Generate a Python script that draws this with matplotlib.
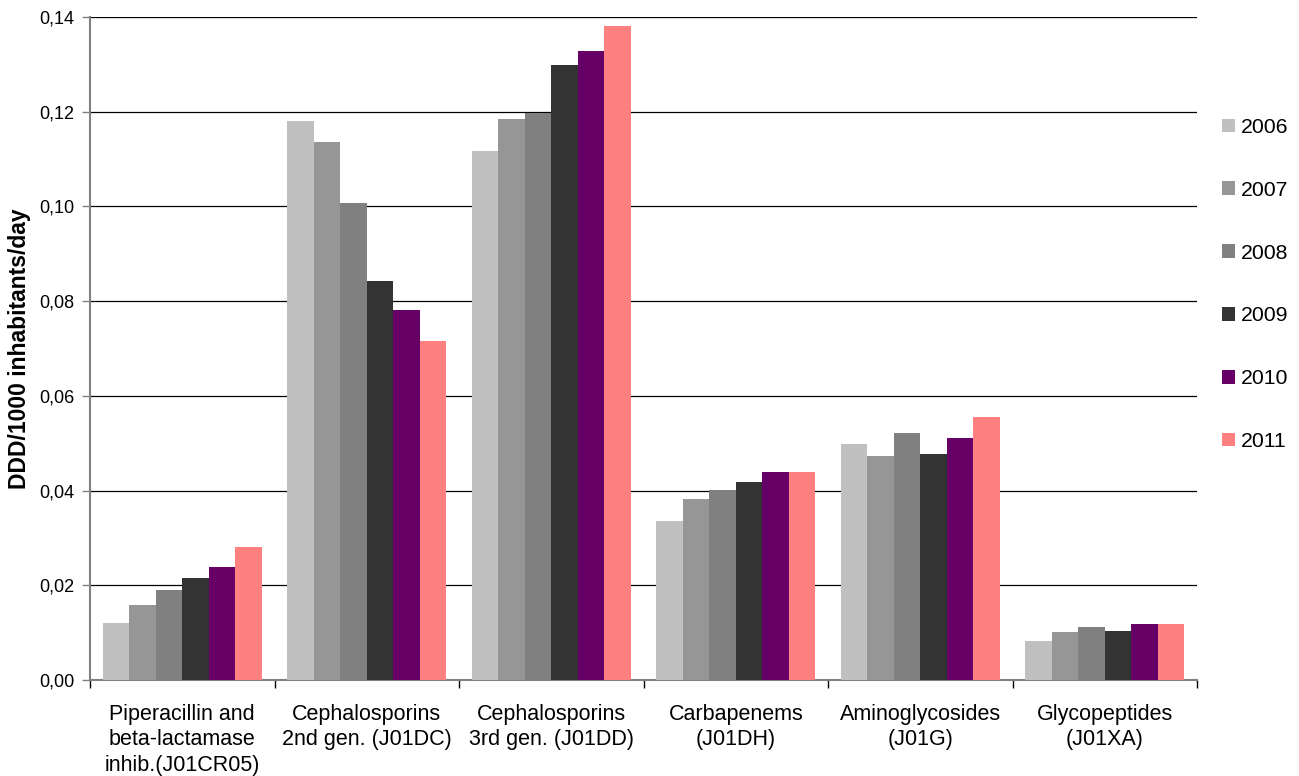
import matplotlib
matplotlib.use("Agg")
import matplotlib.pyplot as plt
import numpy as np
from matplotlib.ticker import FuncFormatter, MultipleLocator
from matplotlib.patches import Patch

plt.rcParams['font.family'] = ['Liberation Sans', 'DejaVu Sans']

categories = [
    "Piperacillin and\nbeta-lactamase\ninhib.(J01CR05)",
    "Cephalosporins\n2nd gen. (J01DC)",
    "Cephalosporins\n3rd gen. (J01DD)",
    "Carbapenems\n(J01DH)",
    "Aminoglycosides\n(J01G)",
    "Glycopeptides\n(J01XA)",
]
years = ["2006", "2007", "2008", "2009", "2010", "2011"]

v2006 = [0.0120, 0.1180, 0.1117, 0.0336, 0.0498, 0.0082]
v2007 = [0.0158, 0.1136, 0.1185, 0.0382, 0.0473, 0.0101]
v2008 = [0.0190, 0.1007, 0.1197, 0.0401, 0.0522, 0.0112]
v2009 = [0.0215, 0.0843, 0.1299, 0.0418, 0.0477, 0.0103]
v2010 = [0.0239, 0.0781, 0.1328, 0.0439, 0.0511, 0.0118]
v2011 = [0.0281, 0.0716, 0.1381, 0.0439, 0.0555, 0.0118]
series = [v2006, v2007, v2008, v2009, v2010, v2011]

colors = ["#C0C0C0", "#969696", "#808080", "#333333", "#660066", "#FF8080"]

fig = plt.figure(figsize=(12.99, 7.76), dpi=100)
ax = fig.add_axes([90 / 1299, 1 - 680 / 776, (1197 - 90) / 1299, (680 - 17) / 776])

n = len(series)
x = np.arange(len(categories))
group_w = 0.86
bw = group_w / n
for i, (vals, col) in enumerate(zip(series, colors)):
    ax.bar(x - group_w / 2 + bw * (i + 0.5), vals, width=bw, color=col,
           edgecolor='none', zorder=3, label=years[i])

ax.set_xlim(-0.5, len(categories) - 0.5)
ax.set_ylim(0, 0.14)
ax.yaxis.set_major_locator(MultipleLocator(0.02))
ax.yaxis.set_major_formatter(FuncFormatter(lambda v, p: f"{v:.2f}".replace(".", ",")))
ax.grid(axis='y', color='black', linewidth=0.9, zorder=0)

# category boundaries as tick marks, labels centred under each group
ax.set_xticks(np.arange(-0.5, len(categories) + 0.5, 1.0))
ax.set_xticklabels([])
ax.set_xticks(x, minor=True)
ax.set_xticklabels(categories, minor=True, fontsize=15.5, linespacing=1.26)
ax.tick_params(axis='x', which='major', direction='out', length=6, width=1, color='black')
ax.tick_params(axis='x', which='minor', length=0, pad=17.5)
ax.tick_params(axis='y', direction='out', length=6, width=1, color='#808080',
               labelsize=13, pad=5)

for s in ['top', 'right']:
    ax.spines[s].set_visible(False)
ax.spines['left'].set_color('#808080')
ax.spines['bottom'].set_color('#808080')
ax.spines['left'].set_linewidth(1.5)
ax.spines['bottom'].set_linewidth(1.5)

ax.set_ylabel("DDD/1000 inhabitants/day", fontsize=16.5, fontweight='bold')
ax.yaxis.set_label_coords(-59 / 1107, 0.5)

handles = [Patch(facecolor=c, edgecolor='none') for c in colors]
fig.legend(handles, years, loc='upper left', bbox_to_anchor=(1222 / 1299, 1 - 118 / 776),
           frameon=False, fontsize=15.3, handlelength=0.62, handleheight=0.62,
           handletextpad=0.28, labelspacing=2.06, borderaxespad=0, borderpad=0)

fig.savefig("out.png", dpi=100)
